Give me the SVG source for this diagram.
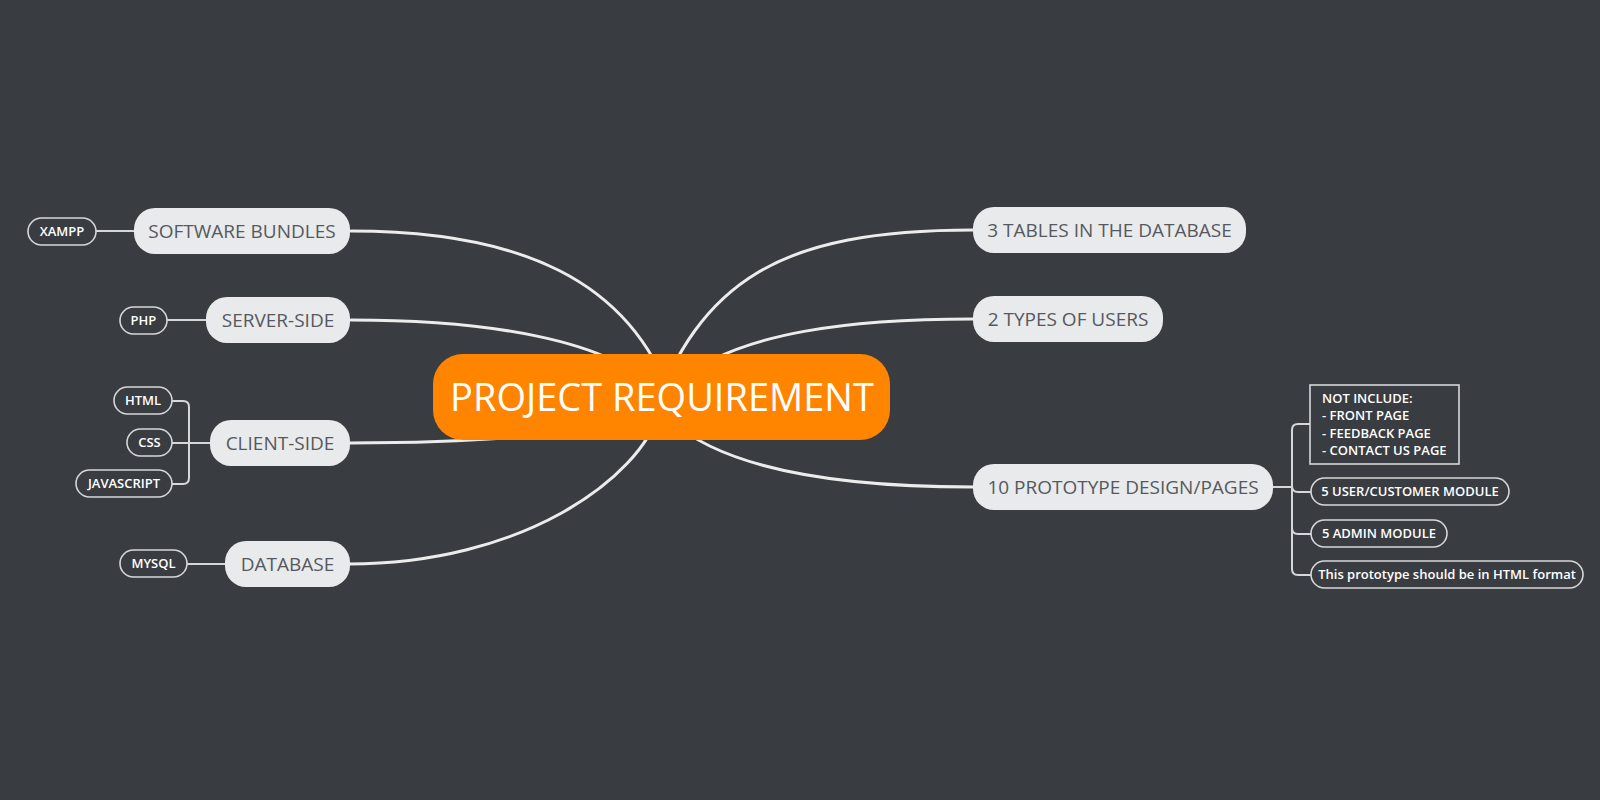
<svg xmlns="http://www.w3.org/2000/svg" width="1600" height="800" viewBox="0 0 1600 800">
<style>
.l1 rect{fill:#e9eaec;}
.l1 text{font-family:"Open Sans","Noto Sans","Liberation Sans",sans-serif;font-size:19px;fill:#55595e;text-anchor:middle;}
.pill rect{fill:#393c41;stroke:#d6d7d9;stroke-width:1.6;}
.pill text{font-family:"Open Sans","Noto Sans","Liberation Sans",sans-serif;font-size:13px;font-weight:600;fill:#ffffff;text-anchor:middle;}
.note text{font-family:"Open Sans","Noto Sans","Liberation Sans",sans-serif;font-size:13px;font-weight:600;fill:#ffffff;}
.main{fill:none;stroke:#ececec;stroke-width:3;stroke-linecap:round;}
.sub{fill:none;stroke:#d6d7d9;stroke-width:2;}
</style>
<rect x="0" y="0" width="1600" height="800" fill="#393c41"/>
<g id="connectors">
<path class="main" d="M672,400 C630,280 520,231 351,231"/>
<path class="main" d="M660,395 C615,338 480,320 351,320"/>
<path class="main" d="M620,420 C560,438 450,443 350,443"/>
<path class="main" d="M660,410 C640,480 520,564 349,564"/>
<path class="main" d="M650,420 C700,280 780,230 973,230"/>
<path class="main" d="M675,385 C735,330 860,319 973,319"/>
<path class="main" d="M670,420 C720,465 820,487 973,487"/>
<path class="sub" d="M96,231 H134"/>
<path class="sub" d="M167,320 H206"/>
<path class="sub" d="M172,401 H183 Q189,401 189,407 V478 Q189,484 183,484 H172"/>
<path class="sub" d="M172,443 H210"/>
<path class="sub" d="M187,564 H225"/>
<path class="sub" d="M1273,487 H1292"/>
<path class="sub" d="M1310,424 H1298 Q1292,424 1292,430 V569 Q1292,575 1298,575 H1311"/>
<path class="sub" d="M1292,486 Q1292,492 1298,492 H1311"/>
<path class="sub" d="M1292,528 Q1292,534 1298,534 H1311"/>
</g>
<g id="root">
<rect x="433" y="354" width="457" height="86" rx="30" fill="#ff8500"/>
<text x="662" y="411" font-family="Open Sans, Noto Sans, Liberation Sans, sans-serif" font-size="38" fill="#ffffff" text-anchor="middle">PROJECT REQUIREMENT</text>
</g>
<g id="software-bundles" class="l1"><rect x="134" y="208" width="216" height="46" rx="21"/><text x="242" y="237.8">SOFTWARE BUNDLES</text></g>
<g id="server-side" class="l1"><rect x="206" y="297" width="144" height="46" rx="21"/><text x="278" y="326.8">SERVER-SIDE</text></g>
<g id="client-side" class="l1"><rect x="210" y="420" width="140" height="46" rx="21"/><text x="280" y="449.8">CLIENT-SIDE</text></g>
<g id="database" class="l1"><rect x="225" y="541" width="125" height="46" rx="21"/><text x="287.5" y="570.8">DATABASE</text></g>
<g id="tables" class="l1"><rect x="973" y="207" width="273" height="46" rx="21"/><text x="1109.5" y="236.8">3 TABLES IN THE DATABASE</text></g>
<g id="users" class="l1"><rect x="973" y="296" width="190" height="46" rx="21"/><text x="1068" y="325.8">2 TYPES OF USERS</text></g>
<g id="prototype" class="l1"><rect x="973" y="464" width="300" height="46" rx="21"/><text x="1123" y="493.8">10 PROTOTYPE DESIGN/PAGES</text></g>
<g id="xampp" class="pill"><rect x="28" y="218" width="68" height="27" rx="13.5"/><text x="62" y="236.2">XAMPP</text></g>
<g id="php" class="pill"><rect x="120" y="307" width="47" height="27" rx="13.5"/><text x="143.5" y="325.2">PHP</text></g>
<g id="html" class="pill"><rect x="114" y="387" width="58" height="27" rx="13.5"/><text x="143" y="405.2">HTML</text></g>
<g id="css" class="pill"><rect x="127" y="429" width="45" height="27" rx="13.5"/><text x="149.5" y="447.2">CSS</text></g>
<g id="javascript" class="pill"><rect x="76" y="470" width="96" height="27" rx="13.5"/><text x="124" y="488.2">JAVASCRIPT</text></g>
<g id="mysql" class="pill"><rect x="120" y="550" width="67" height="27" rx="13.5"/><text x="153.5" y="568.2">MYSQL</text></g>
<g id="not-include" class="note">
<rect x="1310" y="385" width="149" height="79" fill="none" stroke="#d6d7d9" stroke-width="1.6"/>
<text x="1322" y="403">NOT INCLUDE:</text>
<text x="1322" y="420.3">- FRONT PAGE</text>
<text x="1322" y="437.6">- FEEDBACK PAGE</text>
<text x="1322" y="455">- CONTACT US PAGE</text>
</g>
<g id="user-module" class="pill"><rect x="1311" y="478" width="198" height="27" rx="13.5"/><text x="1410" y="496.2">5 USER/CUSTOMER MODULE</text></g>
<g id="admin-module" class="pill"><rect x="1311" y="520" width="136" height="27" rx="13.5"/><text x="1379" y="538.2">5 ADMIN MODULE</text></g>
<g id="html-format" class="pill"><rect x="1311" y="561" width="272" height="27" rx="13.5"/><text x="1447" y="579.2" font-size="12.6">This prototype should be in HTML format</text></g>
</svg>
